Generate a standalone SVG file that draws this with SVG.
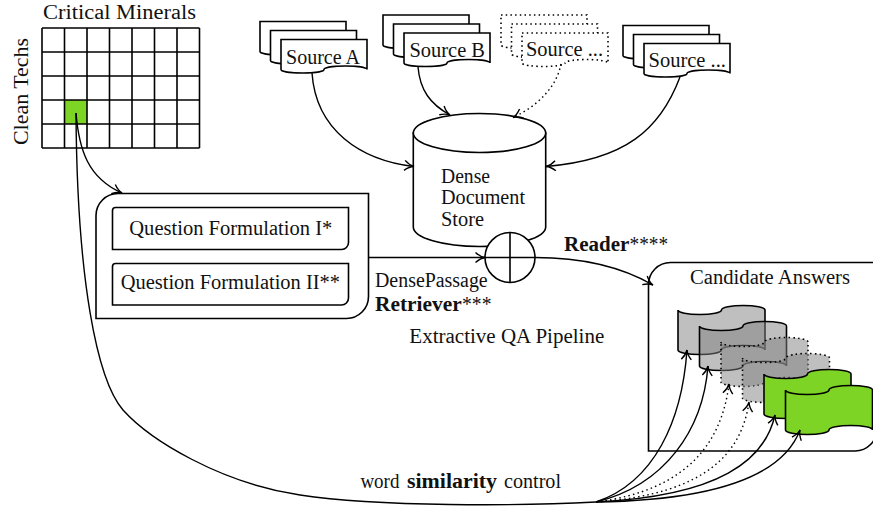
<svg xmlns="http://www.w3.org/2000/svg" xmlns:xlink="http://www.w3.org/1999/xlink" width="873" height="506" viewBox="0 0 873 506">
  <style>
    text { font-family: "Liberation Serif", "DejaVu Serif", serif; font-size: 20px; fill: #111; }
    .b { font-weight: bold; }
    .ln { fill: none; stroke: #000; stroke-width: 1.6; }
    .pg { fill: #fff; stroke: #000; stroke-width: 1.6; }
    .pgd { fill: #fff; stroke: #000; stroke-width: 1.6; stroke-dasharray: 1.5 3.2; }
    .box { fill: #fff; stroke: #000; stroke-width: 1.6; }
    .con { fill: none; stroke: #000; stroke-width: 1.4; marker-end: url(#arr); }
    .dot { stroke-dasharray: 1.5 3.2; }
    .gray { fill: #808080; fill-opacity: 0.5; stroke: #000; stroke-width: 1.6; }
    .grayd { fill: #808080; fill-opacity: 0.5; stroke: #000; stroke-width: 1.6; stroke-dasharray: 1.5 3.2; }
    .green { fill: #7dd424; stroke: #000; stroke-width: 1.6; }
  </style>
  <defs>
    <marker id="arr" markerUnits="userSpaceOnUse" markerWidth="20" markerHeight="20" refX="0" refY="0" orient="auto" overflow="visible">
      <path d="M-9.5,-5 C-6,-1.8 -2.2,-0.3 0,0 C-2.2,0.3 -6,1.8 -9.5,5" fill="none" stroke="#000" stroke-width="1.4"/>
    </marker>
    <!-- document page with a wavy lower edge -->
    <path id="page" d="M0,0 H86 V30 A21.5,3.5 0 0 0 43,30 A21.5,3.5 0 0 1 0,30 Z"/>
    <!-- tape-like answer card -->
    <path id="tape" d="M0,0 A21.75,4.5 0 0 0 43.5,0 A21.75,4.5 0 0 1 87,0 L87,40 A21.75,4.5 0 0 0 43.5,40 A21.75,4.5 0 0 1 0,40 Z"/>
  </defs>

  <!-- matrix of clean techs vs critical minerals -->
  <g id="matrix">
    <text x="43" y="19.3" textLength="153" lengthAdjust="spacingAndGlyphs">Critical Minerals</text>
    <text transform="translate(27.5,145) rotate(-90)" textLength="107" lengthAdjust="spacingAndGlyphs">Clean Techs</text>
    <rect x="64.5" y="100" width="22.5" height="24" fill="#7dd424"/>
    <path class="ln" d="M42,28 H199.5 M42,52 H199.5 M42,76 H199.5 M42,100 H199.5 M42,124 H199.5 M42,148 H199.5
      M42,28 V148 M64.5,28 V148 M87,28 V148 M109.5,28 V148 M132,28 V148 M154.5,28 V148 M177,28 V148 M199.5,28 V148"/>
  </g>

  <!-- sources -->
  <g id="source-a">
    <use xlink:href="#page" class="pg" x="260" y="21.5"/>
    <use xlink:href="#page" class="pg" x="270.5" y="30.5"/>
    <use xlink:href="#page" class="pg" x="281" y="39.5"/>
    <text x="286" y="63.5" textLength="74" lengthAdjust="spacingAndGlyphs">Source A</text>
  </g>
  <g id="source-b">
    <use xlink:href="#page" class="pg" x="383" y="15"/>
    <use xlink:href="#page" class="pg" x="393.5" y="24"/>
    <use xlink:href="#page" class="pg" x="404" y="33"/>
    <text x="409.5" y="56.7" textLength="75.5" lengthAdjust="spacingAndGlyphs">Source B</text>
  </g>
  <g id="source-dotted">
    <use xlink:href="#page" class="pgd" x="501" y="15"/>
    <use xlink:href="#page" class="pgd" x="511.5" y="24"/>
    <use xlink:href="#page" class="pgd" x="522" y="33"/>
    <text x="526" y="56" textLength="77" lengthAdjust="spacingAndGlyphs">Source ...</text>
  </g>
  <g id="source-more">
    <use xlink:href="#page" class="pg" x="623" y="25.5"/>
    <use xlink:href="#page" class="pg" x="633.5" y="34.5"/>
    <use xlink:href="#page" class="pg" x="644" y="43.5"/>
    <text x="648.5" y="66.5" textLength="77.5" lengthAdjust="spacingAndGlyphs">Source ...</text>
  </g>

  <!-- document store -->
  <g id="store">
    <path class="box" d="M413.3,133 V227 A66.2,19.5 0 0 0 545.7,227 V133 Z"/>
    <ellipse class="box" cx="479.5" cy="133" rx="66.2" ry="19.5"/>
    <text x="441" y="183.3" textLength="49" lengthAdjust="spacingAndGlyphs">Dense</text>
    <text x="441" y="204.3" textLength="84" lengthAdjust="spacingAndGlyphs">Document</text>
    <text x="441" y="225.5" textLength="43" lengthAdjust="spacingAndGlyphs">Store</text>
  </g>

  <!-- question formulation block -->
  <g id="questions">
    <path class="box" d="M96,215.5 A22,22 0 0 1 118,193.5 H368.5 V296.5 A22,22 0 0 1 346.5,318.5 H96 Z"/>
    <path class="box" d="M112.5,210.5 A3,3 0 0 1 115.5,207.5 H348.5 V242.5 A7,7 0 0 1 341.5,249.5 H112.5 Z"/>
    <path class="box" d="M112.5,266.5 A3,3 0 0 1 115.5,263.5 H348.5 V298 A7,7 0 0 1 341.5,305 H112.5 Z"/>
    <text x="129.3" y="234.5" textLength="203" lengthAdjust="spacingAndGlyphs">Question Formulation I*</text>
    <text x="120.7" y="289.3" textLength="219.3" lengthAdjust="spacingAndGlyphs">Question Formulation II**</text>
  </g>

  <!-- combiner -->
  <g id="combiner">
    <circle class="box" cx="510" cy="257.5" r="25"/>
    <path class="ln" d="M510,232.5 V282.5 M485,257.5 H535"/>
  </g>

  <!-- pipeline labels -->
  <g id="labels">
    <text x="375" y="287.3" textLength="112.7" lengthAdjust="spacingAndGlyphs">DensePassage</text>
    <text class="b" x="375" y="311" textLength="86.7" lengthAdjust="spacingAndGlyphs">Retriever</text>
    <text x="462" y="311" textLength="29.5" lengthAdjust="spacingAndGlyphs">***</text>
    <text class="b" x="564" y="251" textLength="65.3" lengthAdjust="spacingAndGlyphs">Reader</text>
    <text x="629.5" y="251" textLength="38.5" lengthAdjust="spacingAndGlyphs">****</text>
    <text x="409.3" y="343.3" textLength="195" lengthAdjust="spacingAndGlyphs">Extractive QA Pipeline</text>
    <text x="360.4" y="488" textLength="39" lengthAdjust="spacingAndGlyphs">word</text>
    <text class="b" x="407" y="488" textLength="90" lengthAdjust="spacingAndGlyphs">similarity</text>
    <text x="504" y="488" textLength="57" lengthAdjust="spacingAndGlyphs">control</text>
  </g>

  <!-- candidate answers -->
  <g id="candidates">
    <path class="box" d="M648.5,284.5 A22,22 0 0 1 670.5,262.5 H877 V429 A22,22 0 0 1 855,451 H648.5 Z"/>
    <text x="690" y="284" textLength="160" lengthAdjust="spacingAndGlyphs">Candidate Answers</text>
    <use xlink:href="#tape" class="gray" x="678" y="310"/>
    <use xlink:href="#tape" class="gray" x="699.5" y="326"/>
    <use xlink:href="#tape" class="grayd" x="721" y="342"/>
    <use xlink:href="#tape" class="grayd" x="742.5" y="358"/>
    <use xlink:href="#tape" class="green" x="764" y="374"/>
    <use xlink:href="#tape" class="green" x="785.5" y="390"/>
  </g>

  <!-- connectors -->
  <g id="connectors">
    <path class="con" d="M312,73 C316,130 360,160 414,166.5"/>
    <path class="con" d="M418,67 C420,90 430,104 450,115"/>
    <path class="con dot" d="M561,64 C557,85 540,105 513,117.5"/>
    <path class="con" d="M680,77 C660,130 625,160 546,166.5"/>
    <path class="con" d="M76,113 C79,150 88,178 122,193"/>
    <path class="con" d="M368.5,257.5 H485"/>
    <path class="con" d="M535,257.5 C580,257.5 620,266 653,285"/>
    <path class="ln" style="stroke-width:1.4" d="M76,113 C77,280 97,380 123,410 C150,440 220,483 300,495 C380,507 520,506 596,502"/>
    <path class="con" d="M596,502 C655,482 682,420 687,350"/>
    <path class="con" d="M596,502 C665,485 703,430 708,366"/>
    <path class="con dot" d="M596,502 C690,490 722,440 729,384"/>
    <path class="con dot" d="M596,502 C710,494 742,450 749,402"/>
    <path class="con" d="M596,502 C720,496 765,460 775,415"/>
    <path class="con" d="M596,502 C730,500 785,470 800,430"/>
  </g>
</svg>
